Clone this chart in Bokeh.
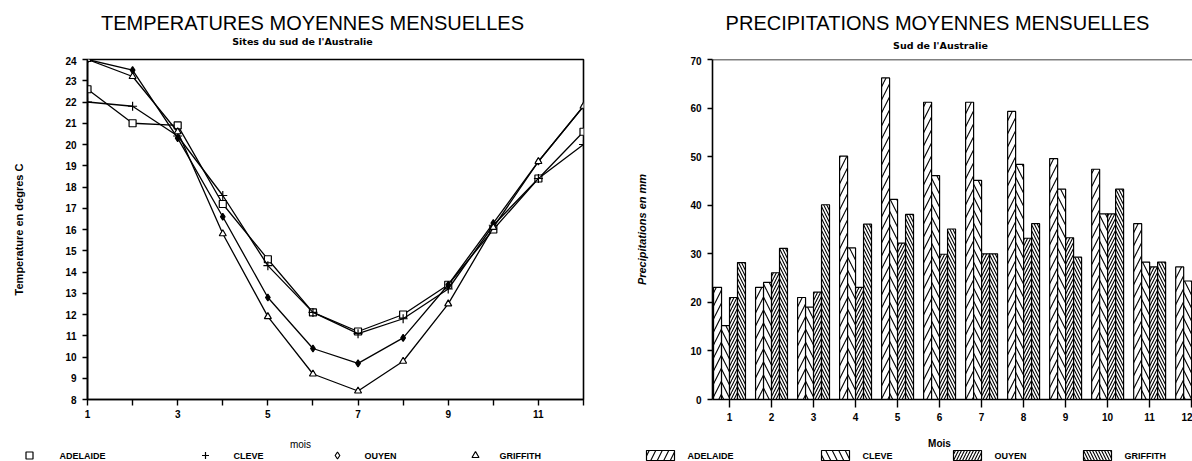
from bokeh.plotting import figure
from bokeh.layouts import row, column
from bokeh.models import Span, Range1d, FixedTicker
from bokeh.core.properties import value
from bokeh.embed import file_html
from bokeh.resources import INLINE

# ---- data -------------------------------------------------------------
months = list(range(1, 13))
stations = ["ADELAIDE", "CLEVE", "OUYEN", "GRIFFITH"]

# mean monthly temperature (deg C)
temp_adelaide = [22.6, 21.0, 20.9, 17.2, 14.6, 12.1, 11.2, 12.0, 13.4, 16.0, 18.4, 20.6]
temp_cleve = [22.0, 21.8, 20.4, 17.6, 14.3, 12.1, 11.1, 11.8, 13.2, 16.2, 18.4, 20.0]
temp_ouyen = [24.0, 23.5, 20.3, 16.6, 12.8, 10.4, 9.7, 10.9, 13.4, 16.3, 19.2, 21.8]
temp_griffith = [24.0, 23.2, 20.6, 15.8, 11.9, 9.2, 8.4, 9.8, 12.5, 16.1, 19.2, 21.8]

# mean monthly precipitation (mm)
rain_adelaide = [23.1, 23.1, 21.0, 50.1, 66.2, 61.2, 61.2, 59.3, 49.6, 47.4, 36.2, 27.3]
rain_cleve = [15.2, 24.1, 19.0, 31.2, 41.2, 46.1, 45.1, 48.4, 43.3, 38.2, 28.3, 24.4]
rain_ouyen = [21.0, 26.1, 22.1, 23.1, 32.2, 29.9, 30.0, 33.2, 33.3, 38.2, 27.3, 23.2]
rain_griffith = [28.2, 31.1, 40.1, 36.1, 38.1, 35.1, 30.0, 36.2, 29.3, 43.3, 28.3, 24.0]

temp_ticks_y = list(range(8, 25))
rain_ticks_y = list(range(0, 71, 10))

FONT = "Liberation Sans"
TITLE_FONT = "Liberation Sans"
SUB_FONT = "DejaVu Sans"

W_LEFT, W_RIGHT = 600, 592
H_TOP, H_MAIN, H_BOT = 56, 380, 25


def style_axes(p):
    for ax in (p.xaxis[0], p.yaxis[0]):
        ax.axis_line_width = 1.6
        ax.axis_line_color = "black"
        ax.major_tick_line_width = 1.4
        ax.major_tick_line_color = "black"
        ax.minor_tick_line_color = None
        ax.major_tick_in = 0
        ax.major_label_text_font = FONT
        ax.major_label_text_font_style = "bold"
        ax.major_label_text_font_size = "10px"
        ax.major_label_text_color = "black"
        ax.axis_label_text_font = FONT
        ax.axis_label_text_font_size = "11px"
        ax.axis_label_text_font_style = "bold"
        ax.axis_label_text_color = "black"
    p.xgrid.grid_line_color = None
    p.ygrid.grid_line_color = None


def strip(x0, width, y0, height):
    """Blank drawing strip whose data coordinates follow page pixels."""
    s = figure(width=width, height=height,
               x_range=Range1d(x0, x0 + width), y_range=Range1d(y0 + height, y0),
               x_axis_type=None, y_axis_type=None,
               output_backend="svg", toolbar_location=None,
               min_border=0, min_border_left=0, min_border_right=0,
               min_border_top=0, min_border_bottom=0)
    s.outline_line_color = None
    s.xgrid.grid_line_color = None
    s.ygrid.grid_line_color = None
    return s


def write(s, x, y, txt, size="9px", style="bold", align="left", font=FONT):
    s.text(x=[x], y=[y], text=[txt], text_font=value(font), text_font_size=value(size),
           text_font_style=value(style), text_align=value(align),
           text_baseline=value("middle"), text_color="black")


# ---- left: temperatures -----------------------------------------------
p1 = figure(width=W_LEFT, height=H_MAIN, x_range=Range1d(1, 12), y_range=Range1d(8, 24),
            output_backend="svg", toolbar_location=None,
            min_border_left=87, min_border_right=17, min_border_top=2, min_border_bottom=34)
p1.outline_line_color = "black"
p1.outline_line_width = 1.6
style_axes(p1)
p1.xaxis.ticker = FixedTicker(ticks=months)
p1.xaxis.major_label_overrides = {m: (str(m) if m % 2 == 1 and m < 12 else "") for m in months}
p1.xaxis.major_tick_out = 6
p1.xaxis.major_label_standoff = 4
p1.yaxis.ticker = FixedTicker(ticks=temp_ticks_y)
p1.yaxis.major_tick_out = 5
p1.yaxis.major_label_standoff = 6
p1.yaxis.axis_label = "Temperature en degres C"
p1.yaxis.axis_label_standoff = 37

series_t = [
    (temp_adelaide, "square", "white", 7),
    (temp_cleve, "cross", "black", 9),
    (temp_ouyen, "diamond", "black", 7),
    (temp_griffith, "triangle", "white", 7),
]
for vals, mk, fc, sz in series_t:
    p1.line(months, vals, line_color="black", line_width=1.3)
    p1.scatter(months, vals, marker=mk, size=sz, fill_color=fc,
               line_color="black", line_width=1.2)

top1 = strip(0, W_LEFT, 0, H_TOP)
write(top1, 312, 22, "TEMPERATURES MOYENNES MENSUELLES", size="20px", style="normal",
      align="center", font=TITLE_FONT)
write(top1, 302, 41, "Sites du sud de l'Australie", size="9.5px", align="center", font=SUB_FONT)

bot1 = strip(0, W_LEFT, H_TOP + H_MAIN, H_BOT)
write(bot1, 300, 444, "mois", size="10px", style="normal", align="center")
leg_markers = ["square", "cross", "diamond", "triangle"]
for mk, sx, name, tx in zip(leg_markers, [29, 205, 337, 475], stations, [59, 233, 364, 499]):
    bot1.scatter(x=[sx], y=[455], marker=mk, size=7, fill_color="white",
                 line_color="black", line_width=1.2)
    write(bot1, tx, 455, name, size="9px")

# ---- right: precipitations --------------------------------------------
p2 = figure(width=W_RIGHT, height=H_MAIN, x_range=Range1d(0.595, 12.02), y_range=Range1d(0, 70),
            output_backend="svg", toolbar_location=None,
            min_border_left=112, min_border_right=0, min_border_top=3, min_border_bottom=37)
p2.outline_line_color = None
style_axes(p2)
p2.xaxis.ticker = FixedTicker(ticks=months)
p2.xaxis.major_tick_out = 8
p2.xaxis.major_label_standoff = 5
p2.yaxis.ticker = FixedTicker(ticks=rain_ticks_y)
p2.yaxis.major_tick_out = 5
p2.yaxis.major_label_standoff = 6
p2.yaxis.axis_label = "Precipitations en mm"
p2.yaxis.axis_label_standoff = 39
p2.yaxis.axis_label_text_font_style = "bold italic"
p2.add_layout(Span(location=70, dimension="width", line_color="black", line_width=1.6))

bar_w = 0.19
series_r = [
    (rain_adelaide, "/", 13),
    (rain_cleve, "\\", 13),
    (rain_ouyen, "/", 6),
    (rain_griffith, "\\", 6),
]
for i, (vals, hp, hs) in enumerate(series_r):
    off = (i - 1.5) * bar_w
    p2.vbar(x=[m + off for m in months], top=vals, width=bar_w, bottom=0,
            fill_color="white", line_color="black", line_width=1.2,
            hatch_pattern=hp, hatch_scale=hs, hatch_color="black", hatch_weight=1.1)

top2 = strip(W_LEFT, W_RIGHT, 0, H_TOP)
write(top2, 937, 22, "PRECIPITATIONS MOYENNES MENSUELLES", size="20px", style="normal",
      align="center", font=TITLE_FONT)
write(top2, 940, 45, "Sud de l'Australie", size="9.5px", align="center", font=SUB_FONT)

bot2 = strip(W_LEFT, W_RIGHT, H_TOP + H_MAIN, H_BOT)
write(bot2, 939, 443, "Mois", size="10px", align="center")
for (vals, hp, hs), name, bx in zip(series_r, stations, [646, 821, 953, 1083]):
    bot2.quad(left=[bx], right=[bx + 28], top=[450], bottom=[460],
              fill_color="white", line_color="black", line_width=1.2,
              hatch_pattern=hp, hatch_scale=hs, hatch_color="black", hatch_weight=1.1)
    write(bot2, bx + 41, 455, name, size="9px")

layout = column(row(top1, top2), row(p1, p2), row(bot1, bot2))
open("out.html", "w").write(file_html(layout, INLINE))
